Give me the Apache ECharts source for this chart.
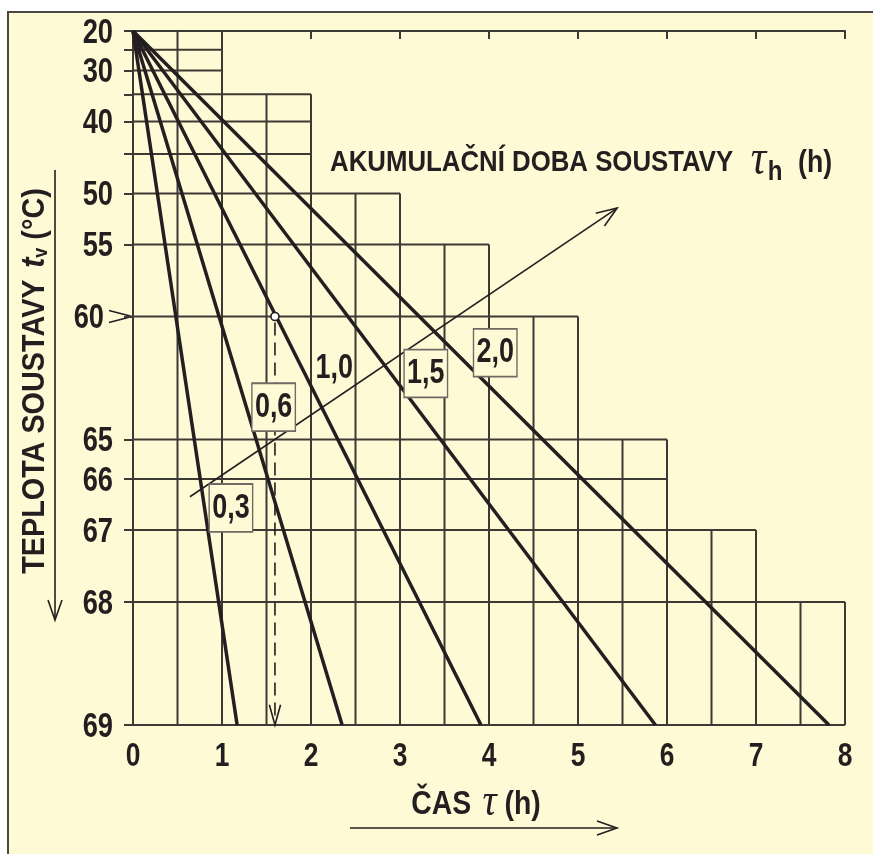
<!DOCTYPE html>
<html>
<head>
<meta charset="utf-8">
<script src="https://cdn.jsdelivr.net/npm/echarts@6.0.0/dist/echarts.min.js"></script>
<style>
  html, body { margin: 0; padding: 0; background: #ffffff; }
  body { width: 873px; height: 854px; overflow: hidden; position: relative; }
  #frame { position: absolute; left: 7px; top: 11px; width: 880px; height: 860px;
           background: #FFFAD6; border-left: 2px solid #4a4744; border-top: 2px solid #4a4744; }
  #chart { position: absolute; left: 0; top: 0; width: 873px; height: 854px; }
</style>
</head>
<body>
<div id="frame"></div>
<div id="chart"></div>
<script>
// ---------------- data ----------------
// temperature scale of the chart: system heats from 20 °C towards 70 °C
const startTemp = 20;
const limitTemp = 70;
const endTemp = 69;
// labelled temperature ticks (°C)
const tempTicks = [20, 30, 40, 50, 55, 60, 65, 66, 67, 68, 69];
// horizontal grid levels (°C) and the time (h) to which each reaches
const gridTemps = [20, 25, 30, 35, 40, 45, 50, 55, 60, 65, 66, 67, 68, 69];
const gridReach = [1, 1, 1, 2, 2, 2, 3, 4, 5, 6, 6, 7, 8, 8];
// vertical grid lines every half hour
const gridTimes = [0.5, 1, 1.5, 2, 2.5, 3, 3.5, 4, 4.5, 5, 5.5, 6, 6.5, 7, 7.5, 8];
// time axis ticks (h)
const timeTicks = [0, 1, 2, 3, 4, 5, 6, 7, 8];
// accumulation time of the system (curve labels) and time at which each curve reaches 69 °C
const tauLabels = ['0,3', '0,6', '1,0', '1,5', '2,0'];
const curveEndTime = [1.17, 2.35, 3.91, 5.87, 7.82];
// where each curve label sits: [time h, temperature °C]
const labelAt = [[1.10, 66.6], [1.58, 64.0], [2.26, 62.55], [3.29, 62.75], [4.07, 61.85]];
const labelBoxed = [true, true, false, true, true];
// example reading: point on curve 1,0 at 60 °C read down to the time axis
const exampleTime = 1.595;
const exampleTemp = 60;
// arrow "increasing accumulation time": from [h, °C] to [h, °C]
const diagArrow = [[0.64, 66.38], [5.44, 51.57]];

// ---------------- helpers ----------------
const FAM = "'Liberation Sans', Arial, sans-serif";
const SERIF = "'Liberation Serif', 'DejaVu Serif', serif";
const INK = '#231f20';
const GRIDC = '#3d3935';
const BG = '#FFFAD6';
// the temperature axis is linear in ln((limit-start)/(limit-t))
function toAxis(t) { return Math.log((limitTemp - startTemp) / (limitTemp - t)); }
function fromAxis(u) { return limitTemp - (limitTemp - startTemp) * Math.exp(-u); }

// grid segments [x1, u1, x2, u2]
const gridSegs = [];
gridTemps.forEach((t, i) => { gridSegs.push([0, toAxis(t), gridReach[i], toAxis(t)]); });
gridTimes.forEach((x) => {
  let topT = endTemp;
  for (let i = 0; i < gridTemps.length; i++) {
    if (gridReach[i] >= x) { topT = gridTemps[i]; break; }
  }
  gridSegs.push([x, toAxis(topT), x, toAxis(endTemp)]);
});

const curveSeries = curveEndTime.map((te, i) => ({
  type: 'line',
  name: tauLabels[i],
  data: [[0, toAxis(startTemp)], [te, toAxis(endTemp)]],
  symbol: 'none',
  lineStyle: { color: INK, width: 3.5 },
  z: 5,
  silent: true
}));

function arrowItem(p1, p2, L, a, lw, dash) {
  const ang = Math.atan2(p2[1] - p1[1], p2[0] - p1[0]);
  const w1 = [p2[0] - L * Math.cos(ang - a), p2[1] - L * Math.sin(ang - a)];
  const w2 = [p2[0] - L * Math.cos(ang + a), p2[1] - L * Math.sin(ang + a)];
  return {
    type: 'group',
    children: [
      { type: 'line', shape: { x1: p1[0], y1: p1[1], x2: p2[0], y2: p2[1] },
        style: { stroke: INK, lineWidth: lw, lineDash: dash || null } },
      { type: 'polyline', shape: { points: [w1, p2, w2] },
        style: { stroke: INK, lineWidth: lw, fill: null } }
    ]
  };
}

function narrowText(x, y, text, size, sx, align, extra) {
  return {
    type: 'text', x: x, y: y, scaleX: sx,
    style: Object.assign({
      text: text, fill: INK,
      font: 'bold ' + size + 'px ' + FAM,
      align: align, verticalAlign: 'middle'
    }, extra || {})
  };
}

const chart = echarts.init(document.getElementById('chart'), null, { renderer: 'canvas' });
const option = {
  backgroundColor: 'transparent',
  animation: false,
  grid: { left: 133, right: 28, top: 31, bottom: 129, containLabel: false },
  xAxis: {
    type: 'value', min: 0, max: 8, interval: 1,
    axisLine: { show: true, lineStyle: { color: GRIDC, width: 2 } },
    axisTick: { show: true, length: 8, lineStyle: { color: GRIDC, width: 2 } },
    axisLabel: { show: false },
    splitLine: { show: false }
  },
  yAxis: {
    type: 'value', inverse: true, min: 0, max: toAxis(endTemp),
    axisLine: { show: true, lineStyle: { color: GRIDC, width: 2 } },
    axisTick: { show: true, length: 9, customValues: gridTemps.map(toAxis),
                lineStyle: { color: GRIDC, width: 2 } },
    axisLabel: { show: false },
    splitLine: { show: false }
  },
  series: [
    {
      type: 'custom', name: 'grid', silent: true, z: 1,
      data: gridSegs,
      encode: { x: [0, 2], y: [1, 3] },
      renderItem: (params, api) => {
        const p1 = api.coord([api.value(0), api.value(1)]);
        const p2 = api.coord([api.value(2), api.value(3)]);
        return { type: 'line', shape: { x1: p1[0], y1: p1[1], x2: p2[0], y2: p2[1] },
                 style: { stroke: GRIDC, lineWidth: 2 } };
      }
    },
    ...curveSeries,
    {
      // temperature tick labels
      type: 'custom', name: 'tempLabels', silent: true, z: 9, clip: false,
      data: tempTicks.map((t) => [0, toAxis(t), t]),
      encode: { x: 0, y: 1 },
      renderItem: (params, api) => {
        const p = api.coord([api.value(0), api.value(1)]);
        const t = api.value(2);
        const gap = t === exampleTemp ? 29 : 20;
        return narrowText(p[0] - gap, p[1] + 2, String(t), 35, 0.78, 'right');
      }
    },
    {
      // time tick labels
      type: 'custom', name: 'timeLabels', silent: true, z: 9, clip: false,
      data: timeTicks.map((v) => [v, toAxis(endTemp)]),
      encode: { x: 0, y: 1 },
      renderItem: (params, api) => {
        const p = api.coord([api.value(0), api.value(1)]);
        return narrowText(p[0], p[1] + 32, String(api.value(0)), 33, 0.8, 'center');
      }
    },
    {
      type: 'custom', name: 'diag', silent: true, z: 6, clip: false,
      data: [[diagArrow[0][0], toAxis(diagArrow[0][1]), diagArrow[1][0], toAxis(diagArrow[1][1])]],
      encode: { x: [0, 2], y: [1, 3] },
      renderItem: (params, api) => {
        const p1 = api.coord([api.value(0), api.value(1)]);
        const p2 = api.coord([api.value(2), api.value(3)]);
        return arrowItem(p1, p2, 22, 0.36, 1.6);
      }
    },
    {
      type: 'custom', name: 'example', silent: true, z: 7, clip: false,
      data: [[exampleTime, toAxis(exampleTemp), exampleTime, toAxis(endTemp)]],
      encode: { x: [0, 2], y: [1, 3] },
      renderItem: (params, api) => {
        const p1 = api.coord([api.value(0), api.value(1)]);
        const p2 = api.coord([api.value(2), api.value(3)]);
        const arr = arrowItem([p1[0], p1[1] + 6], p2, 21, 0.27, 1.6, [13, 7]);
        arr.children.push({ type: 'circle', shape: { cx: p1[0], cy: p1[1], r: 4 },
                            style: { fill: '#ffffff', stroke: INK, lineWidth: 1.6 } });
        return arr;
      }
    },
    {
      type: 'custom', name: 'labels', silent: true, z: 8, clip: false,
      data: labelAt.map((p, i) => [p[0], toAxis(p[1]), i]),
      encode: { x: 0, y: 1 },
      renderItem: (params, api) => {
        const p = api.coord([api.value(0), api.value(1)]);
        const i = api.value(2);
        const boxed = labelBoxed[i];
        return narrowText(p[0], p[1], tauLabels[i], 35, 0.77, 'center', {
          backgroundColor: boxed ? BG : null,
          borderColor: boxed ? '#6f6a64' : null,
          borderWidth: boxed ? 1.8 : 0,
          padding: [7, 3, 4, 3]
        });
      }
    }
  ]
};
chart.setOption(option);

// decorations: axis titles with arrows and the pointer at 60 °C
const p60 = chart.convertToPixel({ gridIndex: 0 }, [0, toAxis(exampleTemp)]);
chart.setOption({
  graphic: [
    {
      type: 'polyline', silent: true,
      shape: { points: [[p60[0] - 24, p60[1] - 6], [p60[0] - 1, p60[1]], [p60[0] - 24, p60[1] + 6]] },
      style: { stroke: INK, lineWidth: 1.6, fill: null }
    },
    {
      type: 'text', silent: true, x: 330, y: 163, scaleX: 0.86,
      style: {
        text: 'AKUMULAČNÍ DOBA SOUSTAVY {tau|τ}{sub|h}{par|(h)}',
        font: 'bold 30px ' + FAM, fill: INK, align: 'left', verticalAlign: 'middle',
        rich: {
          tau: { fontFamily: SERIF, fontStyle: 'italic', fontSize: 50, fill: INK, padding: [0, 0, 4, 12] },
          sub: { fontFamily: FAM, fontWeight: 'bold', fontSize: 28, fill: INK, padding: [18, 0, 0, 2] },
          par: { fontFamily: FAM, fontWeight: 'bold', fontSize: 31, fill: INK, padding: [0, 0, 0, 18] }
        }
      }
    },
    {
      type: 'text', silent: true, x: 35, y: 381, rotation: Math.PI / 2, scaleX: 0.9,
      style: {
        text: 'TEPLOTA SOUSTAVY {t|t}{v|v} (°C)',
        font: 'bold 32px ' + FAM, fill: INK, align: 'center', verticalAlign: 'middle',
        rich: {
          t: { fontFamily: FAM, fontWeight: 'bold', fontStyle: 'italic', fontSize: 34, fill: INK, padding: [0, 0, 0, 4] },
          v: { fontFamily: FAM, fontWeight: 'bold', fontSize: 20, fill: INK, padding: [12, 0, 0, 0] }
        }
      }
    },
    {
      type: 'text', silent: true, x: 476, y: 805, scaleX: 0.86,
      style: {
        text: 'ČAS {tau|τ} (h)',
        font: 'bold 33px ' + FAM, fill: INK, align: 'center', verticalAlign: 'middle',
        rich: {
          tau: { fontFamily: SERIF, fontStyle: 'italic', fontSize: 46, fill: INK, padding: [0, 0, 4, 4] }
        }
      }
    },
    { type: 'line', silent: true, shape: { x1: 55, y1: 170, x2: 55, y2: 620 }, style: { stroke: INK, lineWidth: 1.6 } },
    { type: 'polyline', silent: true, shape: { points: [[48, 600], [55, 620], [62, 600]] }, style: { stroke: INK, lineWidth: 1.6, fill: null } },
    { type: 'line', silent: true, shape: { x1: 350, y1: 828, x2: 617, y2: 828 }, style: { stroke: INK, lineWidth: 1.6 } },
    { type: 'polyline', silent: true, shape: { points: [[597, 821], [617, 828], [597, 835]] }, style: { stroke: INK, lineWidth: 1.6, fill: null } }
  ]
});
</script>
</body>
</html>
